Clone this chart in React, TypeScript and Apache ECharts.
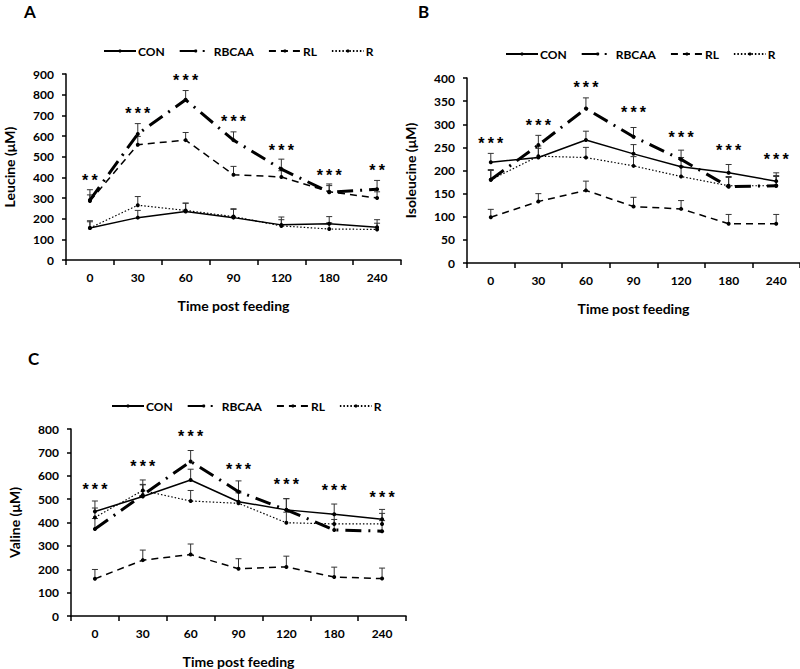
import React, { useEffect, useRef } from "react";
import * as echarts from "echarts";

const categories = ["0", "30", "60", "90", "120", "180", "240"];
const seriesNames = ["CON", "RBCAA", "RL", "R"];

// Leucine (panel A)
const leuCON = [155, 205, 235, 205, 170, 175, 158];
const leuCONErr = [35, 35, 40, 40, 38, 35, 37];
const leuRBCAA = [290, 610, 775, 580, 440, 328, 342];
const leuRBCAAErr = [50, 50, 45, 40, 48, 40, 43];
const leuRL = [285, 558, 580, 413, 402, 330, 300];
const leuRLErr = [30, 40, 37, 40, 30, 30, 30];
const leuR = [155, 265, 240, 210, 165, 150, 148];
const leuRErr = [30, 42, 35, 38, 30, 30, 30];
const leuStars = ["**", "***", "***", "***", "***", "***", "**"];
const leuStarPos = [385, 710, 870, 669, 532, 411, 435];

// Isoleucine (panel B)
const ileCON = [218, 228, 266, 236, 208, 195, 177];
const ileCONErr = [19, 20, 19, 20, 20, 18, 18];
const ileRBCAA = [180, 255, 334, 273, 224, 165, 167];
const ileRBCAAErr = [22, 21, 23, 20, 20, 20, 22];
const ileRL = [99, 133, 157, 122, 117, 85, 85];
const ileRLErr = [17, 17, 20, 20, 18, 20, 20];
const ileR = [180, 231, 228, 210, 187, 167, 167];
const ileRErr = [20, 22, 22, 20, 22, 20, 20];
const ileStars = ["***", "***", "***", "***", "***", "***", "***"];
const ileStarPos = [258, 298, 379, 325, 271, 244, 224];

// Valine (panel C)
const valCON = [447, 511, 582, 489, 454, 435, 414];
const valCONErr = [45, 50, 46, 45, 48, 44, 42];
const valRBCAA = [372, 518, 661, 532, 454, 368, 363];
const valRBCAAErr = [45, 45, 47, 46, 48, 45, 45];
const valRL = [159, 239, 263, 202, 210, 167, 160];
const valRLErr = [40, 43, 45, 43, 46, 42, 45];
const valR = [422, 537, 492, 482, 399, 394, 394];
const valRErr = [40, 45, 45, 45, 45, 40, 45];
const valStars = ["***", "***", "***", "***", "***", "***", "***"];
const valStarPos = [540, 640, 766, 628, 564, 535, 508];

const FONT = "Lato, 'Open Sans', sans-serif";

const lineStyles: any = {
  CON: { color: "#000", width: 1.5, type: "solid" },
  RBCAA: { color: "#000", width: 3, type: [16, 7, 2, 7] },
  RL: { color: "#000", width: 1.5, type: [7, 5] },
  R: { color: "#000", width: 1.2, type: [1.5, 2] },
};

function buildPanel(
  idx: number,
  values: number[][],
  errs: number[][],
  stars: string[],
  starPos: number[]
) {
  const out: any[] = [];
  seriesNames.forEach((name, i) => {
    out.push({
      type: "custom",
      name: `err${idx}-${name}`,
      xAxisIndex: idx,
      yAxisIndex: idx,
      z: 1,
      data: values[i].map((v, k) => [k, v, v + errs[i][k]]),
      renderItem: (params: any, api: any) => {
        const x = api.value(0);
        const p0 = api.coord([x, api.value(1)]);
        const p1 = api.coord([x, api.value(2)]);
        const st = { stroke: "#333", lineWidth: 1 };
        return {
          type: "group",
          children: [
            { type: "line", shape: { x1: p0[0], y1: p0[1], x2: p1[0], y2: p1[1] }, style: st },
            { type: "line", shape: { x1: p1[0] - 3, y1: p1[1], x2: p1[0] + 3, y2: p1[1] }, style: st },
          ],
        };
      },
    });
  });
  seriesNames.forEach((name, i) => {
    out.push({
      type: "line",
      name,
      xAxisIndex: idx,
      yAxisIndex: idx,
      z: 3,
      data: values[i],
      symbol: "circle",
      symbolSize: 4,
      itemStyle: { color: "#000" },
      lineStyle: lineStyles[name],
    });
  });
  out.push({
    type: "custom",
    name: `stars${idx}`,
    xAxisIndex: idx,
    yAxisIndex: idx,
    z: 5,
    data: starPos.map((v, k) => [k, v]),
    renderItem: (params: any, api: any) => {
      const p = api.coord([api.value(0), api.value(1)]);
      return {
        type: "text",
        x: p[0],
        y: p[1],
        style: {
          text: stars[params.dataIndex].split("").join("\u2009"),
          fill: "#000",
          font: "bold 16px 'Liberation Sans', Arial, sans-serif",
          align: "center",
          verticalAlign: "middle",
        },
      };
    },
  });
  return out;
}

function axisPair(idx: number, yName: string, max: number, interval: number, nameGapY: number) {
  const axisLine = { show: true, lineStyle: { color: "#000", width: 1.5 } };
  const axisLabel = { color: "#000", fontFamily: FONT, fontWeight: "bold", fontSize: 12 };
  const nameTextStyle = { color: "#000", fontFamily: FONT, fontWeight: "bold", fontSize: 14 };
  return {
    x: {
      type: "category",
      gridIndex: idx,
      data: categories,
      boundaryGap: true,
      axisLine,
      axisTick: { show: true, length: 5, lineStyle: { color: "#000", width: 1.5 } },
      axisLabel: { ...axisLabel, margin: 11 },
      name: "Time post feeding",
      nameLocation: "middle",
      nameGap: 38,
      nameTextStyle,
      splitLine: { show: false },
    },
    y: {
      type: "value",
      gridIndex: idx,
      min: 0,
      max,
      interval,
      axisLine,
      axisTick: { show: true, length: 4, lineStyle: { color: "#000", width: 1.5 } },
      axisLabel: { ...axisLabel, margin: 12 },
      name: yName,
      nameLocation: "middle",
      nameGap: nameGapY,
      nameRotate: 90,
      nameTextStyle,
      splitLine: { show: false },
    },
  };
}

export default function App() {
  const ref = useRef<HTMLDivElement>(null);
  useEffect(() => {
    if (!ref.current) return;
    const chart = echarts.init(ref.current, null, { renderer: "svg" });
    const a = axisPair(0, "Leucine (μM)", 900, 100, 50);
    const b = axisPair(1, "Isoleucine (μM)", 400, 50, 50);
    const c = axisPair(2, "Valine (μM)", 800, 100, 50);
    const legendBase = {
      data: seriesNames,
      itemWidth: 32,
      itemHeight: 4,
      itemGap: 14,
      width: 320,
      textStyle: { color: "#000", fontFamily: FONT, fontWeight: "bold", fontSize: 12, padding: [0, 0, 0, -3] },
    };
    const titleStyle = { color: "#000", fontFamily: FONT, fontWeight: "bold", fontSize: 17 };
    chart.setOption({
      animation: false,
      backgroundColor: "#fff",
      title: [
        { text: "A", left: 24, top: 3, padding: 0, textStyle: titleStyle },
        { text: "B", left: 418, top: 3, padding: 0, textStyle: titleStyle },
        { text: "C", left: 28, top: 350, padding: 0, textStyle: titleStyle },
      ],
      legend: [
        { ...legendBase, left: 98, top: 40 },
        { ...legendBase, left: 500, top: 43 },
        { ...legendBase, left: 106, top: 395 },
      ],
      grid: [
        { left: 66, top: 74, width: 335, height: 186 },
        { left: 467, top: 78, width: 333, height: 185 },
        { left: 71, top: 429, width: 335, height: 187 },
      ],
      xAxis: [a.x, b.x, c.x],
      yAxis: [a.y, b.y, c.y],
      series: [
        ...buildPanel(0, [leuCON, leuRBCAA, leuRL, leuR], [leuCONErr, leuRBCAAErr, leuRLErr, leuRErr], leuStars, leuStarPos),
        ...buildPanel(1, [ileCON, ileRBCAA, ileRL, ileR], [ileCONErr, ileRBCAAErr, ileRLErr, ileRErr], ileStars, ileStarPos),
        ...buildPanel(2, [valCON, valRBCAA, valRL, valR], [valCONErr, valRBCAAErr, valRLErr, valRErr], valStars, valStarPos),
      ],
    });
    return () => chart.dispose();
  }, []);
  return (
    <div
      ref={ref}
      style={{ position: "fixed", left: 0, top: 0, width: 800, height: 669, background: "#fff" }}
    />
  );
}
